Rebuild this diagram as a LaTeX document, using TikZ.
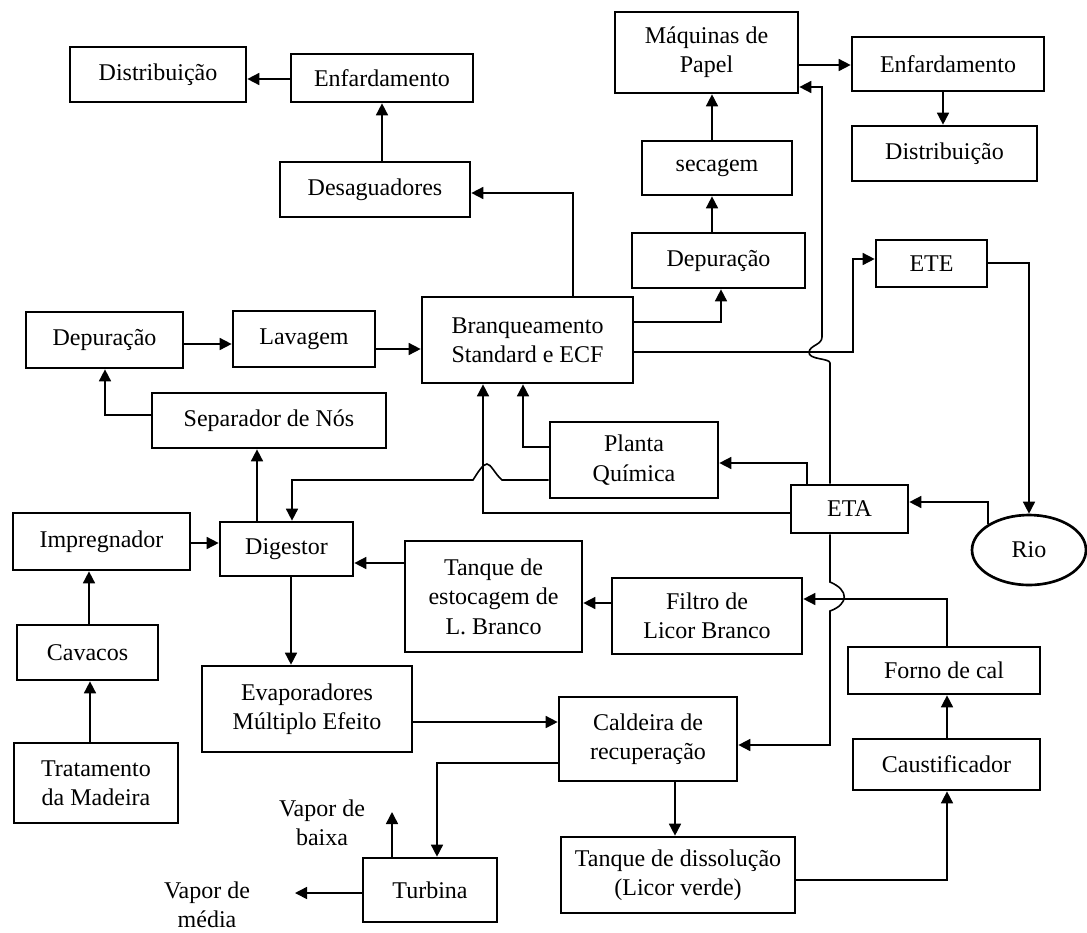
\documentclass[tikz,border=0pt]{standalone}
\usepackage{fontspec}
\setmainfont{Liberation Serif}
\usetikzlibrary{arrows.meta,shapes.geometric}
\tikzset{
 box/.style={draw,line width=2pt,inner sep=0pt,align=center,font=\fontsize{18}{22}\selectfont},
 conn/.style={line width=1.2pt,-{Triangle[length=9pt,width=9pt]}},
 lbl/.style={align=center,font=\fontsize{18}{22}\selectfont,inner sep=0pt}
}
\newcommand{\mybox}[6]{\node[box,minimum width={(#4-#2)*0.75pt},minimum height={(#5-#3)*0.75pt}] (#1) at ({(#2+#4)/2},{(#3+#5)/2}) {#6};}
\begin{document}
\begin{tikzpicture}[x=0.75pt,y=-0.75pt]
\useasboundingbox (0,0) rectangle (1087,932);
% boxes
\mybox{DistA}{70}{47}{246}{102}{Distribuição}
\mybox{EnfA}{291}{54}{473}{102}{Enfardamento}
\mybox{Desag}{280}{162}{470}{217}{Desaguadores}
\mybox{Maq}{615}{12}{798}{93}{Máquinas de\\Papel}
\mybox{EnfB}{852}{37}{1044}{91}{Enfardamento}
\mybox{DistB}{852}{126}{1037}{181}{Distribuição}
\mybox{Sec}{642}{141}{792}{195}{secagem}
\mybox{DepB}{632}{233}{805}{288}{Depuração}
\mybox{ETE}{876}{240}{987}{287}{ETE}
\mybox{DepA}{26}{312}{183}{368}{Depuração}
\mybox{Lav}{233}{311}{375}{367}{Lavagem}
\mybox{Bran}{422}{297}{633}{383}{Branqueamento\\Standard e ECF}
\mybox{Sep}{152}{393}{386}{448}{Separador de Nós}
\mybox{Planta}{550}{422}{718}{498}{Planta\\Química}
\mybox{ETA}{791}{485}{908}{533}{ETA}
\node[box,ellipse,minimum width=114*0.75pt,minimum height=70*0.75pt] (Rio) at (1029,550) {Rio};
\mybox{Imp}{13}{513}{190}{570}{Impregnador}
\mybox{Dig}{220}{522}{353}{576}{Digestor}
\mybox{TqE}{405}{541}{582}{652}{Tanque de\\estocagem de\\L. Branco}
\mybox{Filtro}{612}{578}{802}{654}{Filtro de\\Licor Branco}
\mybox{Cav}{17}{625}{158}{680}{Cavacos}
\mybox{Forno}{848}{647}{1040}{694}{Forno de cal}
\mybox{Evap}{202}{666}{412}{752}{Evaporadores\\Múltiplo Efeito}
\mybox{Cald}{559}{697}{737}{781}{Caldeira de\\recuperação}
\mybox{Caust}{853}{739}{1040}{790}{Caustificador}
\mybox{Trat}{14}{743}{178}{823}{Tratamento\\da Madeira}
\mybox{TqD}{561}{837}{795}{913}{Tanque de dissolução\\(Licor verde)}
\mybox{Turb}{363}{858}{497}{922}{Turbina}
\node[lbl] (VB) at (322,823) {Vapor de\\baixa};
\node[lbl] (VM) at (207,905) {Vapor de\\média};
\coordinate (VBp) at (392,812);
\coordinate (VMp) at (295,893);
% connectors
\draw[conn] (EnfA.west |- 0,79) -- (DistA.east |- 0,79);
\draw[conn] (Desag.north -| 382,0) -- (EnfA.south -| 382,0);
\draw[conn] (Bran.north -| 573,0) |- (Desag.east |- 0,193);
\draw[conn] (Maq.east |- 0,65) -- (EnfB.west |- 0,65);
\draw[conn] (EnfB.south -| 943,0) -- (DistB.north -| 943,0);
\draw[conn] (Sec.north -| 712,0) -- (Maq.south -| 712,0);
\draw[conn] (DepB.north -| 712,0) -- (Sec.south -| 712,0);
\draw[conn] (Bran.east |- 0,322) -| (DepB.south -| 721,0);
\draw[conn] (Bran.east |- 0,352) -- (853,352) |- (ETE.west |- 0,259);
\draw[conn] (ETA.north -| 830,0) -- (830,363) .. controls (830,358) and (808,360) .. (809,352) .. controls (810,345) and (822,345) .. (822,337) -- (822,87) -- (Maq.east |- 0,87);
\draw[conn] (ETE.east |- 0,263) -| (Rio.north);
\draw[conn] (Rio.north west) |- (ETA.east |- 0,502);
\draw[conn] (ETA.north -| 807,0) |- (Planta.east |- 0,463);
\draw[conn] (ETA.west |- 0,513) -| (Bran.south -| 483,0);
\draw[conn] (Planta.west |- 0,447) -| (Bran.south -| 523,0);
\draw[conn] (Planta.west |- 0,480) -- (502,480) .. controls (495,474) and (491,464) .. (487,464) .. controls (483,464) and (478,472) .. (473,480) -- (292,480) -- (Dig.north -| 292,0);
\draw[conn] (Lav.east |- 0,349) -- (Bran.west |- 0,349);
\draw[conn] (DepA.east |- 0,344) -- (Lav.west |- 0,344);
\draw[conn] (Sep.west |- 0,415) -| (DepA.south -| 105,0);
\draw[conn] (Dig.north -| 257,0) -- (Sep.south -| 257,0);
\draw[conn] (Imp.east |- 0,543) -- (Dig.west |- 0,543);
\draw[conn] (Cav.north -| 89,0) -- (Imp.south -| 89,0);
\draw[conn] (Trat.north -| 90,0) -- (Cav.south -| 90,0);
\draw[conn] (Dig.south -| 291,0) -- (Evap.north -| 291,0);
\draw[conn] (TqE.west |- 0,563) -- (Dig.east |- 0,563);
\draw[conn] (Filtro.west |- 0,603) -- (TqE.east |- 0,603);
\draw[conn] (Forno.north -| 947,0) |- (Filtro.east |- 0,599);
\draw[conn] (Caust.north -| 947,0) -- (Forno.south -| 947,0);
\draw[conn] (TqD.east |- 0,880) -| (Caust.south -| 947,0);
\draw[conn] (Cald.south -| 675,0) -- (TqD.north -| 675,0);
\draw[conn] (Evap.east |- 0,722) -- (Cald.west |- 0,722);
\draw[conn] (Cald.west |- 0,763) -| (Turb.north -| 437,0);
\draw[conn] (ETA.south -| 830,0) -- (830,582) .. controls (849,590) and (849,604) .. (830,611) -- (830,745) -- (Cald.east |- 0,745);
\draw[conn] (Turb.north -| 392,0) -- (VBp);
\draw[conn] (Turb.west |- 0,893) -- (VMp);
\end{tikzpicture}
\end{document}
